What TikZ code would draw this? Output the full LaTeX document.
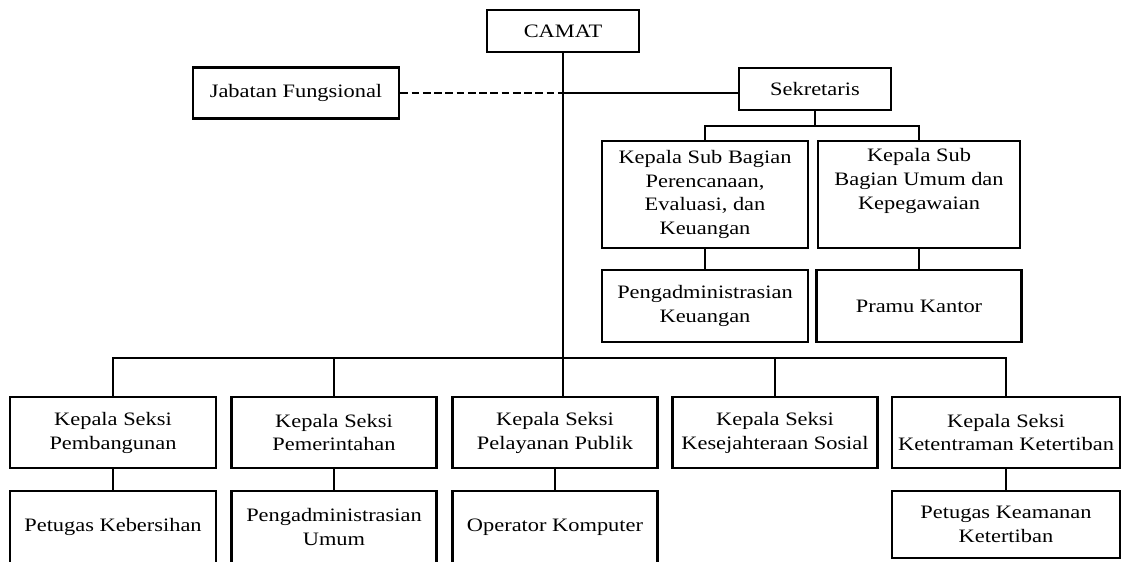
\documentclass[tikz,border=0pt]{standalone}
\usepackage{fontspec}
\setmainfont{Liberation Serif}[FakeStretch=1.18]

\tikzset{
  kotak/.style={draw, line width=1.8pt, align=center, inner sep=0pt,
    font=\fontsize{13.5}{17}\selectfont},
  garis/.style={line width=1.8pt},
}

\begin{document}
\begin{tikzpicture}[x=0.025cm, y=-0.025cm]
        % size of the page, 1 unit = 1 pixel
        \useasboundingbox (0,0) rectangle (1123,561);

        % camat and staff
        \node[kotak, minimum width=3.8cm, minimum height=1.05cm] (camat) at (563,31) {CAMAT};
        \node[kotak, minimum width=5.15cm, minimum height=1.275cm] (jabfung) at (296,93) {Jabatan Fungsional};
        \node[kotak, minimum width=3.8cm, minimum height=1.05cm] (sekretaris) at (815,89) {Sekretaris};

        % sub bagian under sekretaris
        \node[kotak, minimum width=5.15cm, minimum height=2.675cm] (perencanaan) at (705,194.5)
            {Kepala Sub Bagian\\Perencanaan,\\Evaluasi, dan\\Keuangan};
        \node[kotak, minimum width=5.05cm, minimum height=2.675cm] (umum) at (919,194.5)
            {Kepala Sub\\Bagian Umum dan\\Kepegawaian\\\strut};
        \node[kotak, minimum width=5.15cm, minimum height=1.8cm] (keuangan) at (705,306)
            {Pengadministrasian\\Keuangan};
        \node[kotak, minimum width=5.125cm, minimum height=1.8cm] (pramu) at (919,306) {Pramu Kantor};

        % kepala seksi
        \node[kotak, minimum width=5.15cm, minimum height=1.775cm] (pembangunan) at (113,432.5)
            {Kepala Seksi\\Pembangunan};
        \node[kotak, minimum width=5.125cm, minimum height=1.775cm] (pemerintahan) at (334,432.5)
            {Kepala Seksi\\Pemerintahan};
        \node[kotak, minimum width=5.125cm, minimum height=1.775cm] (pelayanan) at (555,432.5)
            {Kepala Seksi\\Pelayanan Publik};
        \node[kotak, minimum width=5.125cm, minimum height=1.775cm] (kesejahteraan) at (775,432.5)
            {Kepala Seksi\\Kesejahteraan Sosial};
        \node[kotak, minimum width=5.7cm, minimum height=1.775cm] (ketentraman) at (1006,432.5)
            {Kepala Seksi\\Ketentraman Ketertiban};

        % staff under kepala seksi (partly cut by the page)
        \node[kotak, minimum width=5.15cm, minimum height=1.8cm] (kebersihan) at (113,527)
            {Petugas Kebersihan};
        \node[kotak, minimum width=5.125cm, minimum height=1.8cm] (admumum) at (334,527)
            {Pengadministrasian\\Umum};
        \node[kotak, minimum width=5.125cm, minimum height=1.8cm] (operator) at (555,527)
            {Operator Komputer};
        \node[kotak, minimum width=5.7cm, minimum height=1.675cm] (keamanan) at (1006,524.5)
            {Petugas Keamanan\\Ketertiban};

        % trunk from camat
        \draw[garis] (camat.south) -- (camat.south |- pelayanan.north);
        \coordinate (simpul) at (camat.south |- jabfung.east);
        \draw[line width=1.8pt, dash pattern=on 5.5pt off 2.5pt] (jabfung.east) -- (simpul);
        \draw[garis] (simpul) -- (simpul -| sekretaris.west);

        % sekretaris branch
        \coordinate (busS) at (815,126);
        \draw[garis] (sekretaris.south) -- (busS);
        \draw[garis] (perencanaan.north) |- (busS) -| (umum.north);
        \draw[garis] (perencanaan) -- (keuangan);
        \draw[garis] (umum) -- (pramu);

        % seksi branch
        \coordinate (busB) at (563,358);
        \draw[garis] (pembangunan.north) |- (busB) -| (ketentraman.north);
        \draw[garis] (pemerintahan.north) -- (pemerintahan.north |- busB);
        \draw[garis] (kesejahteraan.north) -- (kesejahteraan.north |- busB);

        % seksi to staff
        \draw[garis] (pembangunan) -- (kebersihan);
        \draw[garis] (pemerintahan) -- (admumum);
        \draw[garis] (pelayanan) -- (operator);
        \draw[garis] (ketentraman) -- (keamanan);
\end{tikzpicture}
\end{document}
